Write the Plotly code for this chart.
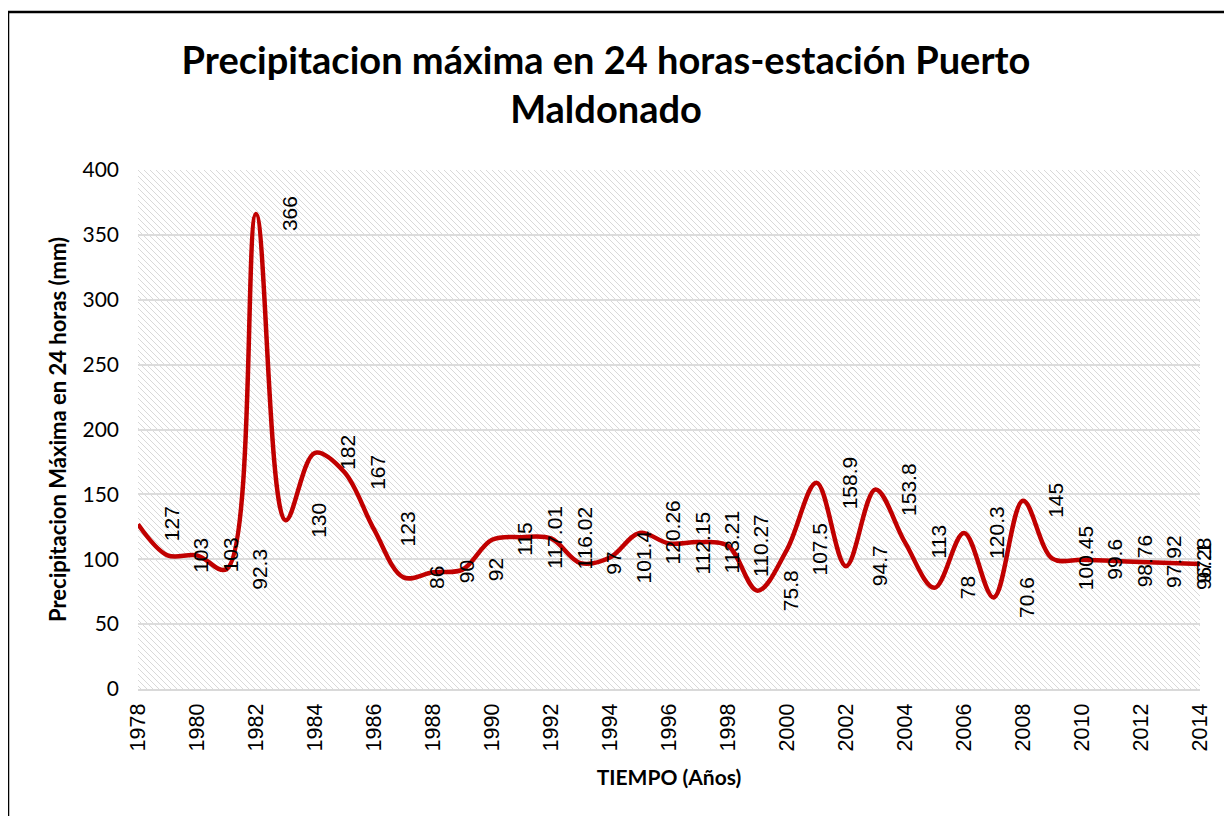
import base64
import plotly.graph_objects as go

# Data
years = list(range(1978, 2015))
precip_max = [127, 103, 103, 92.3, 366, 130, 182, 167, 123, 86, 90, 92, 115, 117.01,
              116.02, 97, 101.4, 120.26, 112.15, 113.21, 110.27, 75.8, 107.5, 158.9,
              94.7, 153.8, 113, 78, 120.3, 70.6, 145, 100.45, 99.6, 98.76, 97.92, 97.1, 96.28]
year_ticks = list(range(1978, 2015, 2))
y_ticks = list(range(0, 401, 50))

title = "Precipitacion máxima en 24 horas-estación Puerto<br>Maldonado"

# hatched plot background (Excel pattern fill), as an svg image
svg = (
    '<svg xmlns="http://www.w3.org/2000/svg" width="1062" height="519" viewBox="0 0 1062 519" '
    'preserveAspectRatio="none"><defs><pattern id="h" width="6" height="6" patternUnits="userSpaceOnUse">'
    '<path d="M0,0 L6,6 M-1,5 L1,7 M5,-1 L7,1" stroke="#d9d9d9" stroke-width="1"/></pattern></defs>'
    '<rect width="1062" height="519" fill="url(#h)"/></svg>'
)
hatch = "data:image/svg+xml;base64," + base64.b64encode(svg.encode()).decode()

fig = go.Figure()
fig.add_trace(
    go.Scatter(
        x=years,
        y=precip_max,
        mode="lines",
        line=dict(color="#c00000", width=4.5, shape="spline", smoothing=1.0),
        showlegend=False,
        hoverinfo="x+y",
    )
)

# rotated data labels, placed to the right of each point like Excel does
annotations = []
for i, (yr, v) in enumerate(zip(years, precip_max)):
    annotations.append(
        dict(
            x=yr, y=v, xref="x", yref="y",
            text=str(v), showarrow=False, textangle=-90,
            xshift=33 if i < len(years) - 1 else 3,
            font=dict(family="Liberation Sans, Arial", size=21, color="#000000"),
        )
    )

fig.update_layout(
    width=1224,
    height=808,
    margin=dict(l=130, r=32, t=162, b=127),
    paper_bgcolor="white",
    plot_bgcolor="rgba(0,0,0,0)",
    title=dict(
        text=title,
        x=598 / 1224, xanchor="center",
        y=1 - 66 / 808, yanchor="middle",
        font=dict(family="Lato", size=38, color="#000000", weight="bold"),
    ),
    xaxis=dict(
        range=[1978, 2014],
        tickvals=year_ticks,
        tickangle=-90,
        tickfont=dict(family="Liberation Sans, Arial", size=21.5, color="#000000"),
        ticklabelstandoff=4,
        showgrid=False,
        showline=True,
        linecolor="#d9d9d9",
        linewidth=2,
        zeroline=False,
        ticks="",
        title=dict(text="<b>TIEMPO (Años)</b>", font=dict(family="Lato", size=21, color="#000000"), standoff=20),
    ),
    yaxis=dict(
        range=[0, 400],
        tickvals=y_ticks,
        tickfont=dict(family="Lato", size=21, color="#000000"),
        ticklabelstandoff=18,
        showgrid=True,
        gridcolor="#dcdcdc",
        gridwidth=1.5,
        zeroline=False,
        showline=False,
        ticks="",
        title=dict(text="<b>Precipitacion Máxima en 24 horas (mm)</b>",
                   font=dict(family="Lato", size=22, color="#000000"), standoff=9),
    ),
    annotations=annotations,
    images=[
        dict(source=hatch, xref="paper", yref="paper", x=0, y=1, sizex=1, sizey=1,
             xanchor="left", yanchor="top", sizing="stretch", layer="below")
    ],
    shapes=[
        dict(type="rect", xref="paper", yref="paper",
             x0=-0.1224, x1=1.0273, y0=-0.2717, y1=1.3044,
             line=dict(color="#000000", width=2.5), fillcolor="rgba(0,0,0,0)", layer="above")
    ],
)

fig.write_html("out.html")
